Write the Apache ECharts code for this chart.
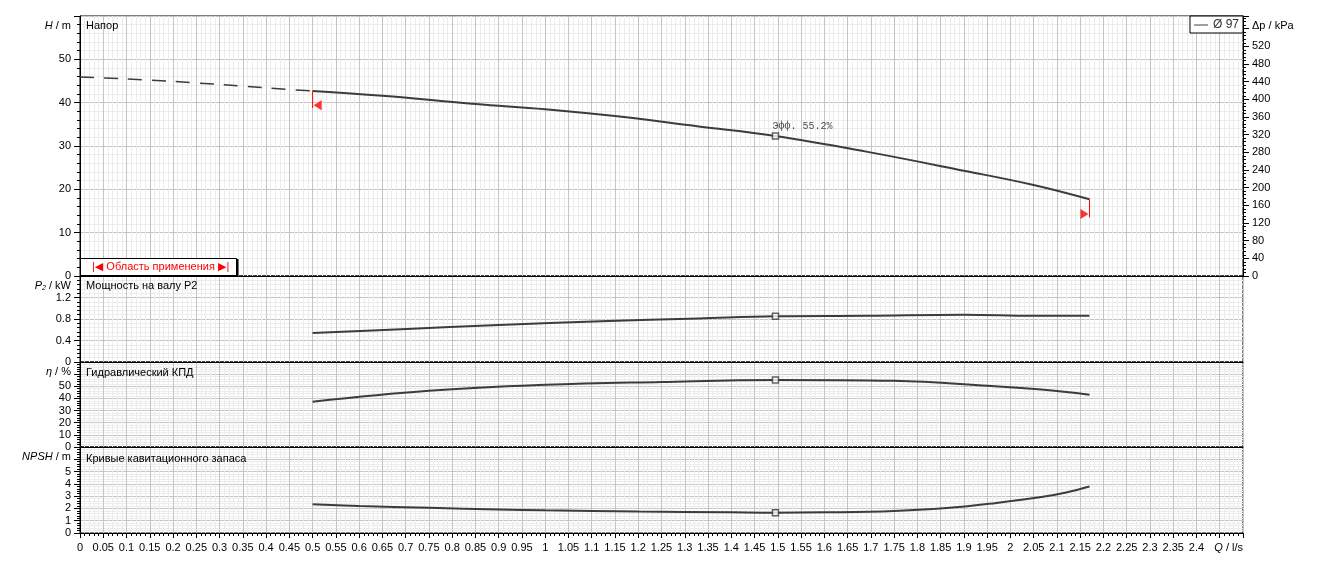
<!DOCTYPE html>
<html><head><meta charset="utf-8">
<script src="https://cdn.jsdelivr.net/npm/echarts@6/dist/echarts.min.js"></script>
<style>html,body{margin:0;padding:0;background:#fff}#c{width:1323px;height:571px}</style>
</head><body><div id="c"></div>
<script>
// ---- data ----
const headDashedQ = [0, 0.1, 0.2, 0.3, 0.4, 0.5];
const headDashedH = [45.9, 45.5, 44.9, 44.2, 43.4, 42.7];
const headQ = [0.5, 0.65, 0.85, 1.0, 1.15, 1.33, 1.495, 1.69, 1.9, 2.05, 2.17];
const headH = [42.7, 41.6, 39.7, 38.5, 36.9, 34.5, 32.3, 28.7, 24.3, 21.0, 17.7];
const powerQ = [0.5, 0.69, 0.9, 1.12, 1.33, 1.495, 1.69, 1.9, 2.05, 2.17];
const powerP = [0.54, 0.61, 0.69, 0.76, 0.81, 0.85, 0.86, 0.88, 0.86, 0.86];
const effQ = [0.5, 0.75, 1.0, 1.25, 1.495, 1.75, 1.95, 2.1, 2.17];
const effE = [37.3, 46.3, 51.2, 53.6, 55.2, 54.5, 50.4, 46.2, 43.0];
const npshQ = [0.5, 0.6, 0.75, 0.9, 1.0, 1.2, 1.4, 1.495, 1.6, 1.75, 1.87, 1.97, 2.07, 2.12, 2.17];
const npshV = [2.33, 2.2, 2.05, 1.92, 1.85, 1.75, 1.68, 1.65, 1.68, 1.8, 2.05, 2.45, 2.95, 3.3, 3.78];
const dutyQ = 1.495;
const dutyH = 32.3, dutyP = 0.85, dutyE = 55.2, dutyN = 1.65;
const rangeLeft = {q: 0.5, top: 42.7, bottom: 38.8, mark: 39.4};
const rangeRight = {q: 2.17, top: 17.7, bottom: 13.5, mark: 14.3};
const panelTitles = ['Напор', 'Мощность на валу P2', 'Гидравлический КПД', 'Кривые кавитационного запаса'];
const curveName = 'Ø 97';
const dutyLabel = 'Эфф. 55.2%';

const zip = (a, b) => a.map((v, i) => [v, b[i]]);
const F = "'Liberation Sans Narrow', 'Liberation Sans', sans-serif";
const fmt = v => String(Math.round(v * 100) / 100);

const gridDefs = [
  {left: 80, width: 1163, top: 16, height: 260},
  {left: 80, width: 1163, top: 276, height: 86},
  {left: 80, width: 1163, top: 362, height: 85},
  {left: 80, width: 1163, top: 447, height: 86}
];

function xAxisDef(i) {
  const last = i === 3;
  return {
    type: 'value', gridIndex: i, min: 0, max: 2.5, interval: 0.05,
    axisLine: {show: true, onZero: false, lineStyle: {color: '#000'}},
    axisTick: {show: last, length: 5, lineStyle: {color: '#000'}},
    minorTick: {show: last, splitNumber: 5, length: 3, lineStyle: {color: '#000'}},
    axisLabel: {show: last, interval: 0, margin: 9, fontFamily: F, fontSize: 11, color: '#000',
      formatter: v => v > 2.42 ? '' : fmt(v)},
    splitLine: {show: true, lineStyle: {color: '#c4c4c4'}},
    minorSplitLine: {show: true, lineStyle: {color: '#ececec'}},
    name: last ? '{i|Q} / l/s' : '', nameLocation: 'end', nameGap: 0,
    nameTextStyle: {align: 'right', verticalAlign: 'top', padding: [9, 0, 0, 0], fontFamily: F, fontSize: 11, color: '#000',
      rich: {i: {fontStyle: 'italic', fontFamily: F, fontSize: 11, color: '#000'}}}
  };
}

function leftAxis(gi, max, interval, maxLabel, name) {
  return {
    type: 'value', gridIndex: gi, min: 0, max: max, interval: interval, position: 'left',
    name: name, nameLocation: 'end', nameGap: -10,
    nameTextStyle: {align: 'right', verticalAlign: 'middle', padding: [0, 9, 0, 0], fontFamily: F, fontSize: 11, color: '#000',
      rich: {
        i: {fontStyle: 'italic', fontFamily: F, fontSize: 11, color: '#000'},
        s: {fontStyle: 'italic', fontFamily: F, fontSize: 7, color: '#000', padding: [5, 0, 0, 0]}
      }},
    axisLine: {show: true, onZero: false, lineStyle: {color: '#000'}},
    axisTick: {show: true, length: 6, lineStyle: {color: '#000'}},
    minorTick: {show: true, splitNumber: 5, length: 3, lineStyle: {color: '#000'}},
    axisLabel: {margin: 9, fontFamily: F, fontSize: 11, color: '#000',
      formatter: v => v > maxLabel + 1e-9 ? '' : fmt(v)},
    splitLine: {show: true, lineStyle: {color: '#c4c4c4'}},
    minorSplitLine: {show: true, lineStyle: {color: '#ececec'}}
  };
}

const rightAxis = {
  type: 'value', gridIndex: 0, min: 0, max: 588.6, interval: 40, position: 'right',
  name: 'Δp / kPa', nameLocation: 'end', nameGap: -10,
  nameTextStyle: {align: 'left', verticalAlign: 'middle', padding: [0, 0, 0, 9], fontFamily: F, fontSize: 11, color: '#000'},
  axisLine: {show: true, onZero: false, lineStyle: {color: '#000'}},
  axisTick: {show: true, length: 6, lineStyle: {color: '#000'}},
  minorTick: {show: true, splitNumber: 5, length: 3, lineStyle: {color: '#000'}},
  axisLabel: {margin: 9, fontFamily: F, fontSize: 11, color: '#000', formatter: v => v > 520.5 ? '' : fmt(v)},
  splitLine: {show: false}, minorSplitLine: {show: false}
};

const curveColor = '#3c3c3c';
function curve(name, xi, yi, data, extra) {
  return Object.assign({
    type: 'line', name: name, xAxisIndex: xi, yAxisIndex: yi, data: data, smooth: 0.4,
    showSymbol: false, symbol: 'none', z: 5,
    lineStyle: {color: curveColor, width: 2}, itemStyle: {color: curveColor}
  }, extra || {});
}
function duty(xi, yi, val, label) {
  return {
    type: 'scatter', xAxisIndex: xi, yAxisIndex: yi, data: [[dutyQ, val]], symbol: 'rect', symbolSize: 6, z: 8,
    itemStyle: {color: '#fff', borderColor: curveColor, borderWidth: 1.5},
    label: label ? {show: true, position: 'top', align: 'left', distance: 1, offset: [-3, 0], formatter: label,
      fontFamily: "'Liberation Mono', 'DejaVu Sans Mono', monospace", fontSize: 10, color: '#222'} : {show: false}
  };
}
const redLine = (r) => ({
  type: 'line', xAxisIndex: 0, yAxisIndex: 0, data: [[r.q, r.top], [r.q, r.bottom]], symbol: 'none', z: 6,
  lineStyle: {color: '#ff0000', width: 1}
});

const option = {
  animation: false,
  backgroundColor: '#fff',
  grid: gridDefs.map(g => Object.assign({show: true, borderColor: '#000', borderWidth: 1, backgroundColor: '#fff'}, g)),
  xAxis: [0, 1, 2, 3].map(xAxisDef),
  yAxis: [
    leftAxis(0, 60, 10, 50, '{i|H} / m'),
    rightAxis,
    leftAxis(1, 1.6, 0.4, 1.2, '{i|P}{s|2} / kW'),
    leftAxis(2, 70, 10, 50, '{i|η} / %'),
    leftAxis(3, 7, 1, 5, '{i|NPSH} / m')
  ],
  title: panelTitles.map((t, i) => ({
    text: t, left: 86, top: [20, 280, 367, 453][i], padding: 0,
    textStyle: {fontFamily: F, fontSize: 11, fontWeight: 'normal', color: '#000'}
  })),
  legend: {
    data: [{name: curveName, icon: 'path://M0,0H20V1.4H0Z'}],
    right: 80, top: 16, orient: 'horizontal', symbolKeepAspect: true,
    itemWidth: 14, itemHeight: 11, itemGap: 4,
    padding: [3, 4, 2, 4], borderColor: '#000', borderWidth: 1, backgroundColor: '#fff',
    textStyle: {fontFamily: F, fontSize: 12, color: '#333'},
    selectedMode: false
  },
  graphic: [
    {type: 'rect', shape: {x: 80.5, y: 258.5, width: 156, height: 17}, style: {fill: '#fff', stroke: '#000', lineWidth: 1}, z: 100},
    {type: 'line', shape: {x1: 237.5, y1: 259, x2: 237.5, y2: 276}, style: {stroke: '#000', lineWidth: 2}, z: 101},
    {type: 'text', x: 92, y: 261, style: {text: '|◀ Область применения ▶|', fill: '#ff0000', font: "11px 'Liberation Sans', 'DejaVu Sans', sans-serif"}, z: 102}
  ],
  series: [
    curve('dash', 0, 0, zip(headDashedQ, headDashedH), {smooth: 0.2, lineStyle: {color: curveColor, width: 1.5, type: [14, 10]}}),
    curve(curveName, 0, 0, zip(headQ, headH)),
    curve('P2', 1, 2, zip(powerQ, powerP)),
    curve('eta', 2, 3, zip(effQ, effE)),
    curve('npsh', 3, 4, zip(npshQ, npshV)),
    duty(0, 0, dutyH, dutyLabel),
    duty(1, 2, dutyP),
    duty(2, 3, dutyE),
    duty(3, 4, dutyN),
    redLine(rangeLeft),
    redLine(rangeRight),
    {
      type: 'scatter', xAxisIndex: 0, yAxisIndex: 0, z: 7, symbolSize: [8, 10],
      itemStyle: {color: '#ff0000'},
      data: [
        {value: [rangeLeft.q, rangeLeft.mark], symbol: 'path://M0,5L10,0L10,10Z', symbolOffset: [5, 0]},
        {value: [rangeRight.q, rangeRight.mark], symbol: 'path://M10,5L0,0L0,10Z', symbolOffset: [-5, 0]}
      ]
    }
  ]
};
const chart = echarts.init(document.getElementById('c'));
chart.setOption(option);
</script>
</body></html>
